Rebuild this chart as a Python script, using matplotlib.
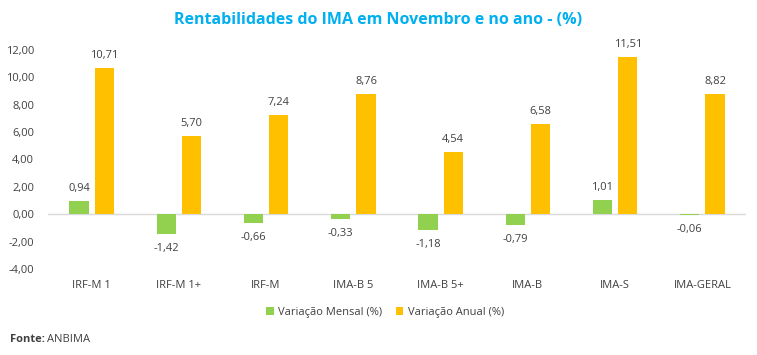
import numpy as np
import matplotlib.pyplot as plt

# Dados do grafico
categorias = ["IRF-M 1", "IRF-M 1+", "IRF-M", "IMA-B 5", "IMA-B 5+", "IMA-B", "IMA-S", "IMA-GERAL"]
var_mensal = [0.94, -1.42, -0.66, -0.33, -1.18, -0.79, 1.01, -0.06]
var_anual = [10.71, 5.70, 7.24, 8.76, 4.54, 6.58, 11.51, 8.82]
yticks = [-4, -2, 0, 2, 4, 6, 8, 10, 12]

verde = "#92D050"
amarelo = "#FFC000"
cinza = "#404040"

plt.rcParams['font.family'] = ['Open Sans', 'DejaVu Sans']

fig = plt.figure(figsize=(7.57, 3.55), dpi=100)
ax = fig.add_axes([48/757, 86/355, 698/757, 219/355])

x = np.arange(len(categorias))
w = 0.22
off = 0.145
b1 = ax.bar(x - off, var_mensal, w, color=verde, label="Variação Mensal (%)")
b2 = ax.bar(x + off, var_anual, w, color=amarelo, label="Variação Anual (%)")

def fmt(v):
    return f"{v:.2f}".replace(".", ",")

# rotulos de valor
for bars, vals in ((b1, var_mensal), (b2, var_anual)):
    for rect, v in zip(bars, vals):
        xc = rect.get_x() + rect.get_width() / 2
        if v >= 0:
            ax.annotate(fmt(v), (xc, v), xytext=(0, 5), textcoords="offset points",
                        ha="center", va="bottom", fontsize=8, color=cinza)
        else:
            ax.annotate(fmt(v), (xc, v), xytext=(0, -6.5), textcoords="offset points",
                        ha="center", va="top", fontsize=8, color=cinza)

ax.set_xlim(-0.5, len(categorias) - 0.5)
ax.set_ylim(-4, 12)
ax.set_yticks(yticks)
ax.set_yticklabels([fmt(t) for t in yticks], fontsize=8, color=cinza)
ax.set_xticks(x)
ax.set_xticklabels(categorias, fontsize=8, color=cinza)
ax.tick_params(axis="y", length=0, pad=10)
ax.tick_params(axis="x", length=0, pad=8)
for s in ax.spines.values():
    s.set_visible(False)
ax.axhline(0, color="#D9D9D9", lw=1, zorder=0)

fig.text(0.5, 1 - 20/355, "Rentabilidades do IMA em Novembro e no ano - (%)",
         ha="center", va="center", fontsize=11.5, fontweight="bold", color="#00B0F0")

ax.legend(loc="center", bbox_to_anchor=(385/757, 1 - 312/355), bbox_transform=fig.transFigure,
          ncol=2, frameon=False, fontsize=8, handlelength=0.7, handleheight=0.7,
          handletextpad=0.4, columnspacing=1.2, labelcolor=cinza)

fig.text(10/757, 1 - 340/355, "Fonte:", ha="left", va="center", fontsize=8, fontweight="bold", color=cinza)
fig.text(47/757, 1 - 340/355, "ANBIMA", ha="left", va="center", fontsize=8, color=cinza)

fig.savefig("out.png", dpi=100)
